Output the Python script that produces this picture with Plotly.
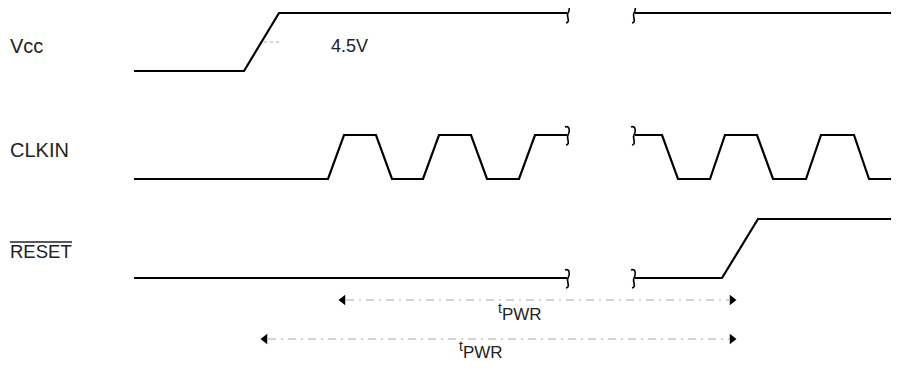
import plotly.graph_objects as go

# ---------------- data (time in diagram units, logic levels 0/1) ----------------
BREAK_START = 567
BREAK_END = 635

vcc_t1 = [134, 244, 279, 567]
vcc_l1 = [0, 0, 1, 1]
vcc_t2 = [635, 899]
vcc_l2 = [1, 1]

clk_t1 = [134, 328, 344, 376, 392, 423, 439, 471, 487, 519, 535, 567]
clk_l1 = [0, 0, 1, 1, 0, 0, 1, 1, 0, 0, 1, 1]
clk_t2 = [635, 662, 678, 710, 725, 757, 773, 806, 821, 854, 869, 899]
clk_l2 = [1, 1, 0, 0, 1, 1, 0, 0, 1, 1, 0, 0]

rst_t1 = [134, 567]
rst_l1 = [0, 0]
rst_t2 = [635, 722, 758, 899]
rst_l2 = [0, 0, 1, 1]

signal_names = ["Vcc", "CLKIN", "RESET"]
threshold_label = "4.5V"
tpwr_starts = [338, 260]
tpwr_end = 737

# ---------------- layout geometry (styles / positions) ----------------
W, H = 899, 370
PAGE_MARGIN = 8  # default browser body margin around the figure
rows = {  # name: (low_y, high_y, label_y, label_size)
    "Vcc": (71, 13, 46, 20),
    "CLKIN": (179, 135, 150, 20),
    "RESET": (278, 219, 251, 18.5),
}
arrow_y = [300, 339]
arrow_label_pos = [(496, 312), (457, 350)]

fig = go.Figure()


def lvl_to_y(name, levels):
    lo, hi = rows[name][0], rows[name][1]
    return [lo + (hi - lo) * v for v in levels]


LINE = dict(color="black", width=2.2)

segments = [
    ("Vcc", vcc_t1, vcc_l1), ("Vcc", vcc_t2, vcc_l2),
    ("CLKIN", clk_t1, clk_l1), ("CLKIN", clk_t2, clk_l2),
    ("RESET", rst_t1, rst_l1), ("RESET", rst_t2, rst_l2),
]
for name, t, l in segments:
    fig.add_trace(go.Scatter(x=t, y=lvl_to_y(name, l), mode="lines",
                             line=LINE, hoverinfo="skip", showlegend=False,
                             cliponaxis=False))


# break squiggles
def squiggle(x, y):
    return (f"M {x-3},{y-8} C {x+2},{y-10} {x+2},{y-3} {x},{y} "
            f"C {x-2},{y+3} {x+3},{y+9} {x-2},{y+10}")


for name, t, l in segments:
    ys = lvl_to_y(name, l)
    if t[-1] == BREAK_START:
        fig.add_shape(type="path", path=squiggle(t[-1] + 1, ys[-1]),
                      line=dict(color="black", width=1.6), xref="x", yref="y")
    if t[0] == BREAK_END:
        fig.add_shape(type="path", path=squiggle(t[0] - 1, ys[0]),
                      line=dict(color="black", width=1.6), xref="x", yref="y")

# threshold tick near Vcc rise
fig.add_trace(go.Scatter(x=[264, 279], y=[42, 42], mode="lines",
                         line=dict(color="#aaaaaa", width=1, dash="3px,3px"),
                         hoverinfo="skip", showlegend=False))

# tPWR arrows
for start, y in zip(tpwr_starts, arrow_y):
    fig.add_trace(go.Scatter(x=[start + 8, tpwr_end - 8], y=[y, y], mode="lines",
                             line=dict(color="#a8a8a8", width=1, dash="8px,5px,2px,5px"),
                             hoverinfo="skip", showlegend=False))
    fig.add_trace(go.Scatter(x=[start + 5, tpwr_end - 5], y=[y, y], mode="markers",
                             marker=dict(symbol=["triangle-left", "triangle-right"],
                                         size=9, color="black"),
                             hoverinfo="skip", showlegend=False))

FAMILY = "Liberation Sans, Arial, sans-serif"
TEXT_COLOR = "#222222"

for name in signal_names:
    fig.add_annotation(x=8, y=rows[name][2], text=name, showarrow=False,
                       xanchor="left", yanchor="middle",
                       font=dict(family=FAMILY, size=rows[name][3], color=TEXT_COLOR))
# overline on RESET
fig.add_shape(type="line", x0=10, x1=72, y0=242, y1=242,
              line=dict(color=TEXT_COLOR, width=1.5))

fig.add_annotation(x=329, y=46, text=threshold_label, showarrow=False,
                   xanchor="left", yanchor="middle",
                   font=dict(family=FAMILY, size=18, color=TEXT_COLOR))

for (x, y) in arrow_label_pos:
    fig.add_annotation(x=x, y=y,
                       text="<sup><span style='font-size:14px'>t</span></sup>PWR",
                       showarrow=False, xanchor="left", yanchor="middle",
                       font=dict(family=FAMILY, size=17, color=TEXT_COLOR))

# figure sits inside the page's default margin; axes map to page pixels
fig.update_layout(
    width=W - 2 * PAGE_MARGIN, height=H - 2 * PAGE_MARGIN,
    margin=dict(l=0, r=0, t=0, b=0),
    paper_bgcolor="white", plot_bgcolor="white", showlegend=False,
    xaxis=dict(range=[PAGE_MARGIN, W - PAGE_MARGIN], visible=False, fixedrange=True),
    yaxis=dict(range=[H - PAGE_MARGIN, PAGE_MARGIN], visible=False, fixedrange=True),
)

fig.write_html("out.html")
